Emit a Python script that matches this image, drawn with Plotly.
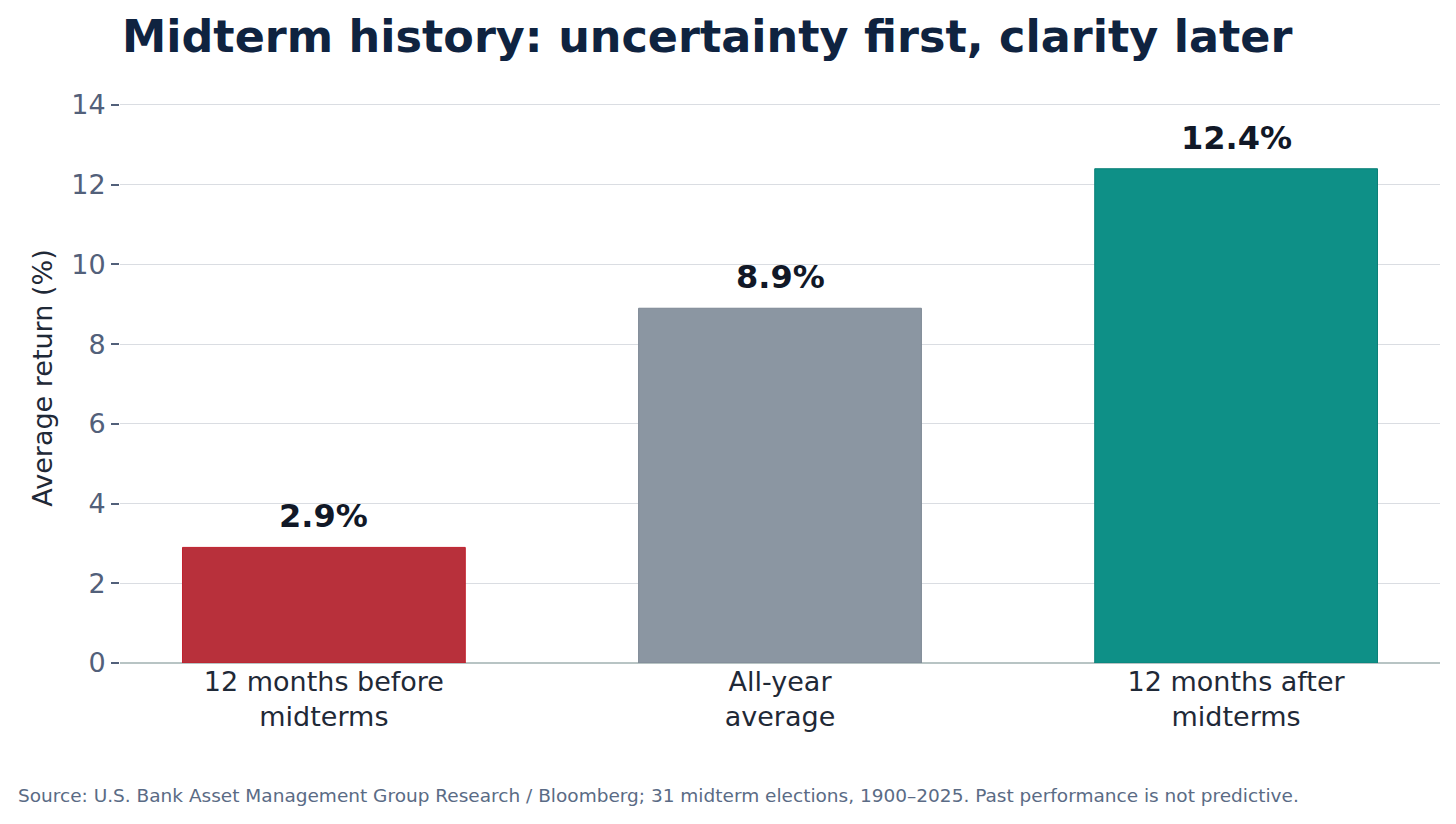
import plotly.graph_objects as go

categories = ["12 months before<br>midterms", "All-year<br>average", "12 months after<br>midterms"]
values = [2.9, 8.9, 12.4]
labels = ["2.9%", "8.9%", "12.4%"]
colors = ["#b8303b", "#8b96a2", "#0e9087"]
line_colors = ["#c01f2c", "#7d8894", "#0b8078"]
y_ticks = [0, 2, 4, 6, 8, 10, 12, 14]

FONT = "DejaVu Sans"

fig = go.Figure()
fig.add_trace(go.Bar(
    x=categories, y=values,
    marker=dict(color=colors, line=dict(color=line_colors, width=1)),
    width=0.62, hoverinfo="skip",
))

annotations = []
for c, v, t in zip(categories, values, labels):
    annotations.append(dict(x=c, y=v, text=f"<b>{t}</b>", showarrow=False,
                            xanchor="center", yanchor="bottom", yshift=10,
                            font=dict(family=FONT, size=32, color="#111827")))

annotations.append(dict(text="Source: U.S. Bank Asset Management Group Research / Bloomberg; 31 midterm elections, 1900–2025. Past performance is not predictive.",
                        xref="paper", yref="paper", x=-0.0788, xanchor="left", y=-0.232, yanchor="middle",
                        showarrow=False, font=dict(family=FONT, size=18.5, color="#5a6b85")))

fig.update_layout(
    width=1456, height=824,
    paper_bgcolor="white", plot_bgcolor="white",
    margin=dict(l=112, r=24, t=85, b=169),
    font=dict(family=FONT),
    showlegend=False,
    title=dict(text="<b>Midterm history: uncertainty first, clarity later</b>",
               font=dict(family=FONT, size=44.5, color="#0f2340"),
               xref="paper", x=0.0015, xanchor="left", y=0.966, yanchor="middle"),
    xaxis=dict(range=[-0.447, 2.447], showgrid=False, showline=False, ticks="",
               tickfont=dict(family=FONT, size=27, color="#1f2937")),
    yaxis=dict(range=[0, 14.3], tickvals=y_ticks, showgrid=True, gridcolor="#dadde2", gridwidth=1.2,
               ticks="outside", ticklen=8, tickcolor="#52607a", tickwidth=1.5,
               zeroline=True, zerolinecolor="#b8c4c4", zerolinewidth=2,
               tickfont=dict(family=FONT, size=27, color="#52607a"),
               title=dict(text="Average return (%)", font=dict(family=FONT, size=27, color="#1f2937"), standoff=10)),
    annotations=annotations,
)

fig.write_html("out.html")
